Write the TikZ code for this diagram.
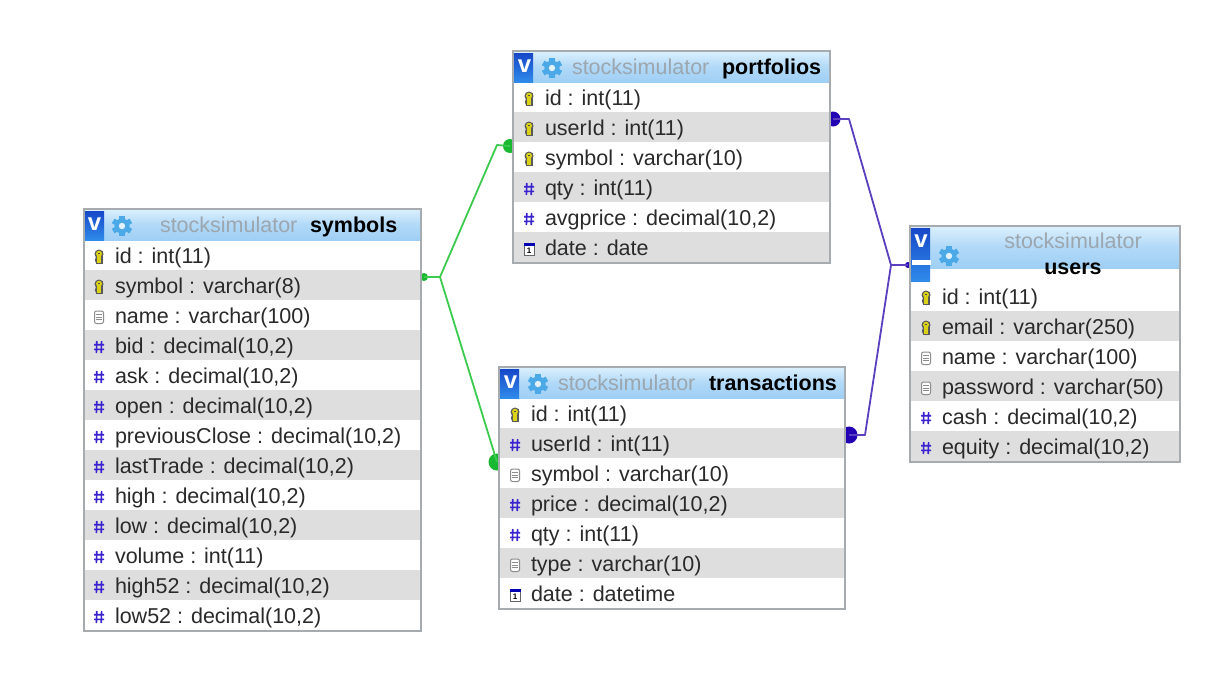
\documentclass[tikz,border=0pt]{standalone}
\usepackage{fontspec}
\setmainfont{Liberation Sans}
\usetikzlibrary{backgrounds}
\definecolor{stripe}{HTML}{DEDEDE}
\definecolor{frame}{HTML}{A6ABAF}
\definecolor{hdtop}{HTML}{DCF0FD}
\definecolor{hdbot}{HTML}{9FCFF5}
\definecolor{tilea}{HTML}{1747C8}
\definecolor{tileb}{HTML}{2F8BEA}
\definecolor{gearc}{HTML}{4BA9E8}
\definecolor{dbgrey}{HTML}{9CA6AE}
\definecolor{txt}{HTML}{2A2A2A}
\definecolor{hashc}{HTML}{3A24CF}
\definecolor{greenl}{HTML}{3CCB4E}
\definecolor{greend}{HTML}{18B830}
\definecolor{bluel}{HTML}{5B3FBE}
\definecolor{blued}{HTML}{2300B4}
\tikzset{
  x=1pt,y=-1pt,
  tablebox/.style={draw=frame,line width=1.6pt,fill=white,anchor=north west,inner sep=0,outer sep=0},
  rowbar/.style={fill=stripe,anchor=north west,inner sep=0,outer sep=0},
  rowplain/.style={anchor=north west,inner sep=0,outer sep=0},
  rowtext/.style={anchor=base west,inner sep=0,outer sep=0,text=txt,font=\fontsize{21.5}{24}\selectfont},
  headtext/.style={anchor=base west,inner sep=0,outer sep=0,font=\fontsize{21.5}{24}\selectfont},
  greenlink/.style={draw=greenl,line width=1.8pt,line join=round},
  bluelink/.style={draw=bluel,line width=1.8pt,line join=round},
  linkdot/.style={circle,inner sep=0,outer sep=0,minimum size=#1},
  keyicon/.pic={
    \fill[fill=black!65] (-3.5,-6.5) rectangle (3.5,7);
    \fill[fill=black!65] (0,-3) circle (4.5);
    \fill[fill=black!65] (0,3) circle (4.2);
    \fill[fill=yellow!65!olive!90] (0,-3.3) circle (3);
    \fill[fill=yellow!65!olive!90] (-1.6,-1) rectangle (1.6,6);
    \fill[fill=black!70] (-.8,-4) rectangle (.8,-3);
  },
  hashicon/.pic={
    \draw[hashc,line width=1.6pt] (-2.2,-6) -- (-2.6,6) (2.6,-6) -- (2.2,6) (-5,-2.3) -- (5,-2.3) (-5,2.3) -- (5,2.3);
  },
  texticon/.pic={
    \draw[black!45,fill=white,line width=1pt,rounded corners=2pt] (-4.5,-6) rectangle (4.5,6.5);
    \draw[black!45,line width=.9pt] (-2.6,-2.8) -- (2.6,-2.8) (-2.6,0) -- (2.6,0) (-2.6,2.8) -- (2.6,2.8);
  },
  dateicon/.pic={
    \draw[black!60,fill=white,line width=1pt] (-5,-5.5) rectangle (5,6);
    \fill[blue!70!black] (-5.5,-6) rectangle (5.5,-3.5);
    \node[inner sep=0,font=\fontsize{8}{8}\bfseries\selectfont] at (0,1.3) {1};
  },
  gearicon/.pic={
    \foreach \a in {0,60,...,300}{\fill[gearc,rotate=\a] (-2.6,-10.2) rectangle (2.6,-6);}
    \fill[gearc] (0,0) circle (7.6);
    \fill[white!70!hdbot] (0,0) circle (3.2);
  }
}
\newcounter{rowno}
\newcommand{\starttable}[6]{% name, x0, y0, x1, y1, first row top
  \def\tname{#1}\def\tleft{#2}\def\tright{#4}\def\ttop{#3}\def\tbot{#5}\def\trow{#6}%
  \setcounter{rowno}{0}%
  \pgfmathsetmacro{\tw}{#4-#2}\pgfmathsetmacro{\th}{#5-#3}%
  \node[tablebox,minimum width=\tw pt,minimum height=\th pt] (#1) at (#2,#3) {};
}
\newcommand{\tablehead}[1]{% bottom of the gradient band
  \pgfmathsetmacro{\hh}{#1-\ttop}%
  \node[anchor=north west,inner sep=0,outer sep=0,minimum width=\tw pt,minimum height=\hh pt,top color=hdtop,bottom color=hdbot,middle color=hdbot!70!hdtop] (\tname-head) at (\tleft,\ttop) {};
}
\newcommand{\tiletall}[1]{% bottom of the blue V tile
  \pgfmathsetmacro{\vh}{#1-\ttop-2}%
  \node[anchor=north west,inner sep=0,outer sep=0,minimum width=19pt,minimum height=\vh pt,top color=tilea,bottom color=tileb] (\tname-tile) at (\tleft+1,\ttop+2) {};
}
\newcommand{\rowitem}[4]{% icon x, text x, icon, text
  \stepcounter{rowno}%
  \pgfmathsetmacro{\rtop}{\trow+30*(\value{rowno}-1)}%
  \ifodd\value{rowno}
    \node[rowplain,minimum width=\tw pt,minimum height=30pt] (\tname-r\therowno) at (\tleft,\rtop) {};
  \else
    \node[rowbar,minimum width=\tw pt,minimum height=30pt] (\tname-r\therowno) at (\tleft,\rtop) {};
  \fi
  \pic at (#1,\rtop+17) {#3};
  \node[rowtext] (\tname-t\therowno) at (#2,\rtop+23) {#4};
}
\newcommand{\tableframe}{%
  \draw[draw=frame,line width=1.6pt] (\tname.north west) rectangle (\tname.south east);
}
\begin{document}
\begin{tikzpicture}
\useasboundingbox (0,0) rectangle (1213,688);

% ---------- symbols
\starttable{symbols}{84}{209}{421}{631}{240}
\tablehead{240}
\rowitem{99}{115}{keyicon}{id : int(11)}
\rowitem{99}{115}{keyicon}{symbol : varchar(8)}
\rowitem{99}{115}{texticon}{name : varchar(100)}
\rowitem{99}{115}{hashicon}{bid : decimal(10,2)}
\rowitem{99}{115}{hashicon}{ask : decimal(10,2)}
\rowitem{99}{115}{hashicon}{open : decimal(10,2)}
\rowitem{99}{115}{hashicon}{previousClose : decimal(10,2)}
\rowitem{99}{115}{hashicon}{lastTrade : decimal(10,2)}
\rowitem{99}{115}{hashicon}{high : decimal(10,2)}
\rowitem{99}{115}{hashicon}{low : decimal(10,2)}
\rowitem{99}{115}{hashicon}{volume : int(11)}
\rowitem{99}{115}{hashicon}{high52 : decimal(10,2)}
\rowitem{99}{115}{hashicon}{low52 : decimal(10,2)}
\tiletall{240}
\node[anchor=center,inner sep=0,text=white,font=\fontsize{24}{24}\bfseries\selectfont] (symbols-v) at (94.5,224) {v};
\pic at (122,226) {gearicon};
\node[headtext,text=dbgrey] (symbols-db) at (160,232) {stocksimulator};
\node[headtext,text=black,font=\fontsize{21.5}{24}\bfseries\selectfont] (symbols-name) at (310,232) {symbols};
\tableframe

% ---------- portfolios
\starttable{portfolios}{513}{51}{830}{263}{82}
\tablehead{82}
\rowitem{529}{545}{keyicon}{id : int(11)}
\rowitem{529}{545}{keyicon}{userId : int(11)}
\rowitem{529}{545}{keyicon}{symbol : varchar(10)}
\rowitem{529}{545}{hashicon}{qty : int(11)}
\rowitem{529}{545}{hashicon}{avgprice : decimal(10,2)}
\rowitem{529}{545}{dateicon}{date : date}
\tiletall{82}
\node[anchor=center,inner sep=0,text=white,font=\fontsize{24}{24}\bfseries\selectfont] (portfolios-v) at (524.5,66) {v};
\pic at (552,68) {gearicon};
\node[headtext,text=dbgrey] (portfolios-db) at (572,74) {stocksimulator};
\node[headtext,text=black,font=\fontsize{21.5}{24}\bfseries\selectfont] (portfolios-name) at (722,74) {portfolios};
\tableframe

% ---------- transactions
\starttable{transactions}{499}{367}{845}{609}{398}
\tablehead{398}
\rowitem{515}{531}{keyicon}{id : int(11)}
\rowitem{515}{531}{hashicon}{userId : int(11)}
\rowitem{515}{531}{texticon}{symbol : varchar(10)}
\rowitem{515}{531}{hashicon}{price : decimal(10,2)}
\rowitem{515}{531}{hashicon}{qty : int(11)}
\rowitem{515}{531}{texticon}{type : varchar(10)}
\rowitem{515}{531}{dateicon}{date : datetime}
\tiletall{398}
\node[anchor=center,inner sep=0,text=white,font=\fontsize{24}{24}\bfseries\selectfont] (transactions-v) at (510.5,382) {v};
\pic at (538,384) {gearicon};
\node[headtext,text=dbgrey] (transactions-db) at (558,390) {stocksimulator};
\node[headtext,text=black,font=\fontsize{21.5}{24}\bfseries\selectfont] (transactions-name) at (709,390) {transactions};
\tableframe

% ---------- users
\starttable{users}{910}{226}{1180}{462}{281}
\tablehead{268}
\rowitem{926}{942}{keyicon}{id : int(11)}
\rowitem{926}{942}{keyicon}{email : varchar(250)}
\rowitem{926}{942}{texticon}{name : varchar(100)}
\rowitem{926}{942}{texticon}{password : varchar(50)}
\rowitem{926}{942}{hashicon}{cash : decimal(10,2)}
\rowitem{926}{942}{hashicon}{equity : decimal(10,2)}
\tiletall{281}
\fill[white] (912,260) rectangle (931,264.5);
\node[anchor=center,inner sep=0,text=white,font=\fontsize{24}{24}\bfseries\selectfont] (users-v) at (921,241) {v};
\pic at (949,256) {gearicon};
\node[headtext,text=dbgrey,anchor=base] (users-db) at (1073,248) {stocksimulator};
\node[headtext,text=black,anchor=base,font=\fontsize{21.5}{24}\bfseries\selectfont] (users-name) at (1073,274) {users};
\tableframe

% ---------- connectors
\begin{scope}[on background layer]
  \fill[white] (0,0) rectangle (1213,688);
  \node[linkdot=8pt,fill=greend] (symdot) at (424,277) {};
  \node[linkdot=14pt,fill=greend] (pfdot) at (510,146) {};
  \node[linkdot=17pt,fill=greend] (trdot) at (497,462) {};
  \node[linkdot=15pt,fill=blued] (pfblue) at (833,119) {};
  \node[linkdot=17pt,fill=blued] (trblue) at (849,435) {};
  \node[linkdot=6pt,fill=blued] (usblue) at (908,265) {};
  \coordinate (gj) at (440,277);
  \coordinate (gt) at (497,145);
  \coordinate (gb) at (497,462);
  \coordinate (bj) at (891,265);
  \coordinate (bt) at (849,119);
  \coordinate (bb) at (865,435);
  \draw[greenlink] (symdot.center) -- (gj) -- (gt) -- (pfdot.center);
  \draw[greenlink] (gj) -- (gb) -- (trdot.center);
  \draw[bluelink] (pfblue.center) -- (bt) -- (bj) -- (usblue.center);
  \draw[bluelink] (trblue.center) -- (bb) -- (bj);
\end{scope}
\end{tikzpicture}
\end{document}
